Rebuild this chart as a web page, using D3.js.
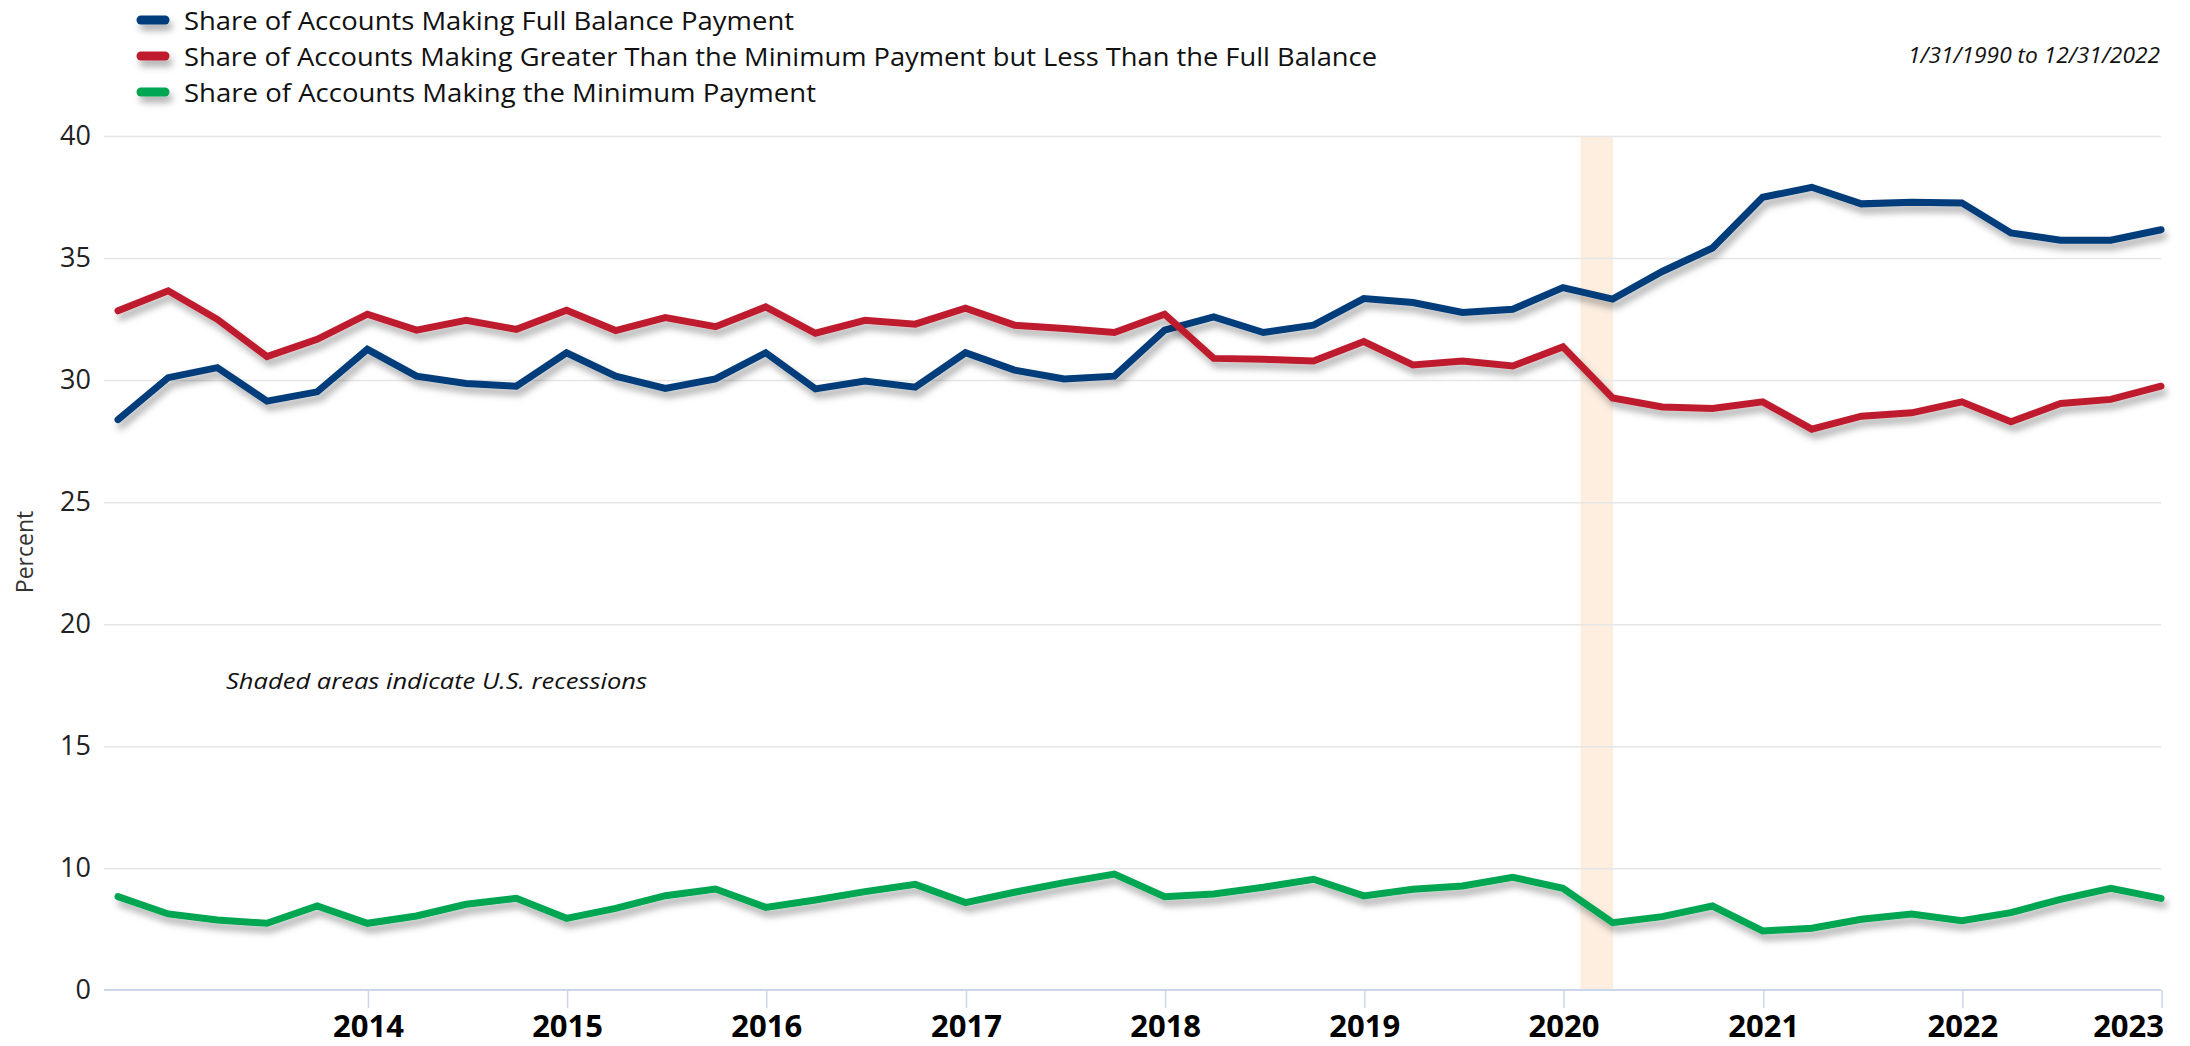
<!DOCTYPE html>
<html>
<head>
<meta charset="utf-8">
<script src="https://cdn.jsdelivr.net/npm/d3@7"></script>
<style>
  html, body { margin: 0; padding: 0; background: #ffffff; }
  svg { display: block; }
  text { font-family: "Open Sans", "Noto Sans", sans-serif; }
</style>
</head>
<body>
<svg id="chart" width="2190" height="1046"></svg>
<script>
// ---------------- DATA ----------------
const dates = [
  "2012-09-30","2012-12-31","2013-03-31","2013-06-30","2013-09-30","2013-12-31",
  "2014-03-31","2014-06-30","2014-09-30","2014-12-31",
  "2015-03-31","2015-06-30","2015-09-30","2015-12-31",
  "2016-03-31","2016-06-30","2016-09-30","2016-12-31",
  "2017-03-31","2017-06-30","2017-09-30","2017-12-31",
  "2018-03-31","2018-06-30","2018-09-30","2018-12-31",
  "2019-03-31","2019-06-30","2019-09-30","2019-12-31",
  "2020-03-31","2020-06-30","2020-09-30","2020-12-31",
  "2021-03-31","2021-06-30","2021-09-30","2021-12-31",
  "2022-03-31","2022-06-30","2022-09-30","2022-12-31"
];
const fullBalance = [
  28.38, 30.10, 30.51, 29.14, 29.52, 31.26, 30.16, 29.86, 29.75, 31.12,
  30.16, 29.66, 30.05, 31.12, 29.64, 29.96, 29.71, 31.12, 30.41, 30.05,
  30.16, 32.05, 32.59, 31.95, 32.25, 33.34, 33.18, 32.77, 32.90, 33.79,
  33.32, 34.45, 35.41, 37.49, 37.90, 37.22, 37.29, 37.26, 36.03, 35.73,
  35.73, 36.16
];
const greaterThanMin = [
  32.84, 33.66, 32.49, 30.96, 31.67, 32.70, 32.05, 32.45, 32.08, 32.86,
  32.03, 32.56, 32.19, 33.00, 31.92, 32.45, 32.29, 32.95, 32.25, 32.11,
  31.95, 32.70, 30.89, 30.85, 30.78, 31.58, 30.62, 30.78, 30.58, 31.36,
  29.27, 28.90, 28.84, 29.11, 27.99, 28.52, 28.66, 29.11, 28.29, 29.04,
  29.21, 29.75
];
const minimumPayment = [
  7.67, 6.25, 5.75, 5.48, 6.90, 5.48, 6.08, 7.04, 7.53, 5.89,
  6.70, 7.75, 8.30, 6.79, 7.40, 8.08, 8.68, 7.18, 8.03, 8.82,
  9.53, 7.67, 7.89, 8.44, 9.10, 7.73, 8.27, 8.55, 9.26, 8.36,
  5.53, 6.03, 6.90, 4.85, 5.07, 5.81, 6.25, 5.70, 6.36, 7.45,
  8.36, 7.53
];
const seriesNames = [
  "Share of Accounts Making Full Balance Payment",
  "Share of Accounts Making Greater Than the Minimum Payment but Less Than the Full Balance",
  "Share of Accounts Making the Minimum Payment"
];
const seriesColors = ["#003d7a", "#be1e2d", "#00a651"];
const yTicks = [0, 10, 15, 20, 25, 30, 35, 40];
const xTickYears = ["2014","2015","2016","2017","2018","2019","2020","2021","2022","2023"];
const recession = ["2020-02-01", "2020-04-01"];
const dateRangeLabel = "1/31/1990 to 12/31/2022";
const noteLabel = "Shaded areas indicate U.S. recessions";
const yAxisTitle = "Percent";

// ---------------- SETUP ----------------
const parse = d3.timeParse("%Y-%m-%d");
const parseYear = d3.timeParse("%Y");
const dts = dates.map(parse);
const svg = d3.select("#chart");

const plotLeft = 104, plotRight = 2161;
const x = d3.scaleTime()
  .domain([dts[0], dts[dts.length - 1]])
  .range([118, 2161]);
// 0..10 occupies the same height as 10..15 (as in the original axis)
const y = d3.scaleLinear()
  .domain([0, 10, 40])
  .range([990, 868.3, 136]);

// shadow filter (user space so it also works on flat legend strokes)
const defs = svg.append("defs");
const f = defs.append("filter").attr("id", "shadow")
  .attr("filterUnits", "userSpaceOnUse")
  .attr("x", 0).attr("y", 0).attr("width", 2190).attr("height", 1046);
f.append("feDropShadow").attr("dx", 3).attr("dy", 6).attr("stdDeviation", 3.5)
  .attr("flood-color", "#000").attr("flood-opacity", 0.32);

// recession band
svg.append("rect")
  .attr("x", x(parse(recession[0])))
  .attr("width", x(parse(recession[1])) - x(parse(recession[0])))
  .attr("y", y(40))
  .attr("height", y(0) - y(40))
  .attr("fill", "#fdeee0");

// gridlines
const grid = svg.append("g").attr("transform", `translate(${plotLeft},0)`)
  .call(d3.axisLeft(y).tickValues(yTicks.filter(v => v > 0))
    .tickSize(-(plotRight - plotLeft)).tickFormat(""));
grid.select(".domain").remove();
grid.selectAll(".tick line").attr("stroke", "#e6e6e6").attr("stroke-width", 1.5);

// y axis labels
const yAxis = svg.append("g").attr("transform", `translate(${plotLeft},0)`)
  .call(d3.axisLeft(y).tickValues(yTicks).tickSize(0).tickPadding(13));
yAxis.select(".domain").remove();
yAxis.selectAll(".tick text")
  .attr("font-family", "'Open Sans', sans-serif")
  .attr("font-size", 27).attr("fill", "#222");

// x axis
const xAxis = svg.append("g").attr("transform", `translate(0,${y(0)})`)
  .call(d3.axisBottom(x).tickValues(xTickYears.map(parseYear))
    .tickFormat(d3.timeFormat("%Y")).tickSize(18).tickPadding(7));
xAxis.select(".domain").remove();
xAxis.selectAll(".tick line").attr("stroke", "#ccd6eb").attr("stroke-width", 1.5);
xAxis.selectAll(".tick text")
  .attr("font-family", "'Open Sans', sans-serif")
  .attr("font-weight", 700).attr("font-size", 31).attr("fill", "#000");
// keep the last label inside the plot (right-justified at its tick)
xAxis.selectAll(".tick text").filter((d, i, n) => i === n.length - 1)
  .attr("text-anchor", "end").attr("x", 2);
svg.append("line")
  .attr("x1", plotLeft).attr("x2", plotRight)
  .attr("y1", y(0)).attr("y2", y(0))
  .attr("stroke", "#ccd6eb").attr("stroke-width", 2);

// y axis title
svg.append("text")
  .attr("transform", `translate(25,552) rotate(-90)`)
  .attr("text-anchor", "middle").attr("dy", "0.35em")
  .attr("font-size", 23).attr("fill", "#333")
  .text(yAxisTitle);

// lines
const line = d3.line().x((d, i) => x(dts[i])).y(d => y(d));
const allSeries = [fullBalance, greaterThanMin, minimumPayment];
allSeries.forEach((s, k) => {
  svg.append("path")
    .datum(s)
    .attr("d", line)
    .attr("fill", "none")
    .attr("stroke", seriesColors[k])
    .attr("stroke-width", 7)
    .attr("stroke-linejoin", "miter")
    .attr("stroke-linecap", "round")
    .attr("filter", "url(#shadow)");
});

// legend
const legendBaselines = [30, 66, 102];
const legendWidths = [610, 1193, 632];
seriesNames.forEach((name, k) => {
  const by = legendBaselines[k];
  svg.append("line")
    .attr("x1", 141).attr("x2", 165)
    .attr("y1", by - 10).attr("y2", by - 10)
    .attr("stroke", seriesColors[k]).attr("stroke-width", 9)
    .attr("stroke-linecap", "round")
    .attr("filter", "url(#shadow)");
  svg.append("text")
    .attr("x", 184).attr("y", by)
    .attr("font-size", 26).attr("fill", "#111")
    .attr("textLength", legendWidths[k]).attr("lengthAdjust", "spacingAndGlyphs")
    .text(name);
});

// date range
svg.append("text")
  .attr("x", 2160).attr("y", 63)
  .attr("text-anchor", "end")
  .attr("font-size", 22).attr("font-style", "italic").attr("fill", "#111")
  .attr("textLength", 252).attr("lengthAdjust", "spacingAndGlyphs")
  .text(dateRangeLabel);

// note
svg.append("text")
  .attr("x", 226).attr("y", 689)
  .attr("font-size", 22).attr("font-style", "italic").attr("fill", "#111")
  .attr("textLength", 421).attr("lengthAdjust", "spacingAndGlyphs")
  .text(noteLabel);
</script>
</body>
</html>
